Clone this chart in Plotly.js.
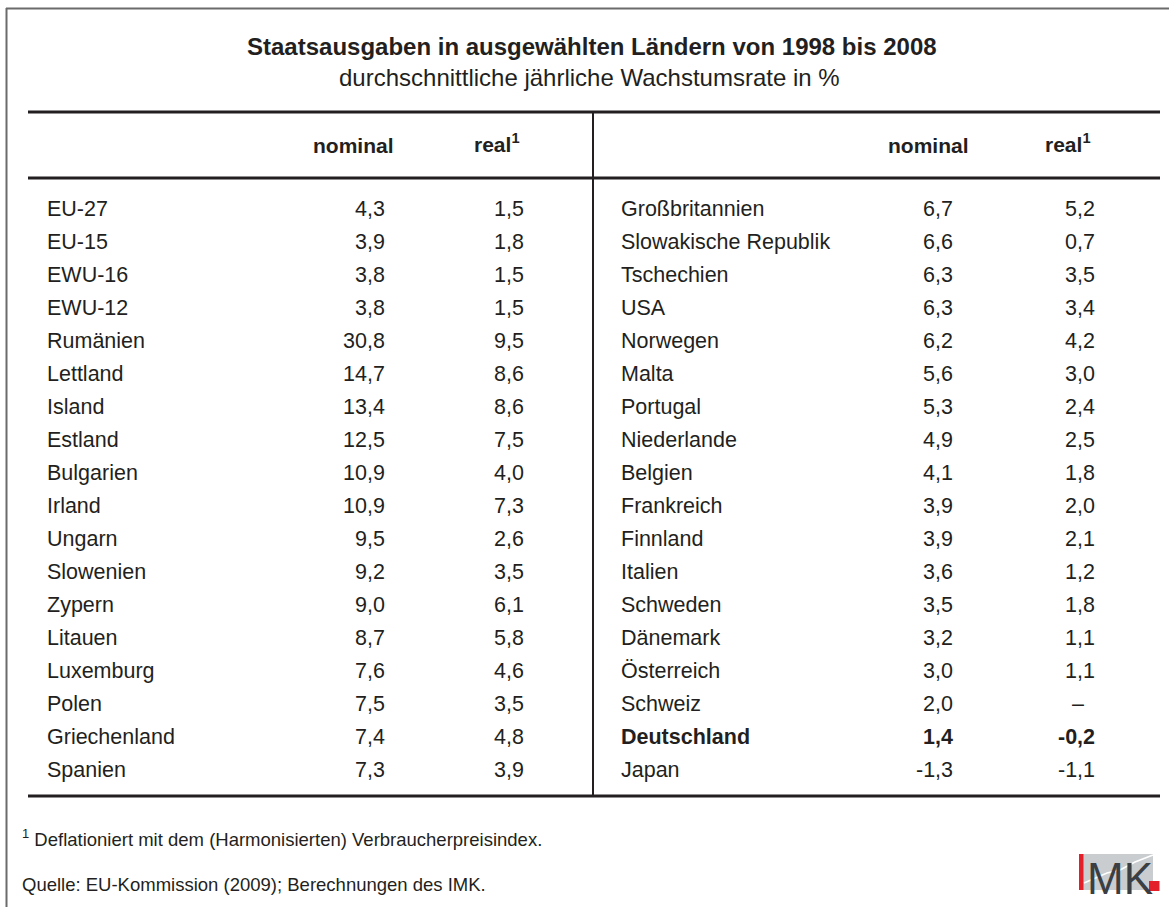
<!DOCTYPE html>
<html><head><meta charset="utf-8">
<script src="https://cdn.plot.ly/plotly-3.0.1.min.js"></script>
<style>html,body{margin:0;padding:0;background:#fff;overflow:hidden}</style>
</head><body><div id="chart" style="width:1169px;height:907px"></div>
<script>
// ---- data ----
const titleText = "Staatsausgaben in ausgewählten Ländern von 1998 bis 2008";
const subtitleText = "durchschnittliche jährliche Wachstumsrate in %";
const headerNominal = "nominal";
const headerReal = "real<sup>1</sup>";
const leftCountries = ["EU-27","EU-15","EWU-16","EWU-12","Rumänien","Lettland","Island","Estland","Bulgarien","Irland","Ungarn","Slowenien","Zypern","Litauen","Luxemburg","Polen","Griechenland","Spanien"];
const leftNominal = [4.3,3.9,3.8,3.8,30.8,14.7,13.4,12.5,10.9,10.9,9.5,9.2,9.0,8.7,7.6,7.5,7.4,7.3];
const leftReal = [1.5,1.8,1.5,1.5,9.5,8.6,8.6,7.5,4.0,7.3,2.6,3.5,6.1,5.8,4.6,3.5,4.8,3.9];
const rightCountries = ["Großbritannien","Slowakische Republik","Tschechien","USA","Norwegen","Malta","Portugal","Niederlande","Belgien","Frankreich","Finnland","Italien","Schweden","Dänemark","Österreich","Schweiz","Deutschland","Japan"];
const rightNominal = [6.7,6.6,6.3,6.3,6.2,5.6,5.3,4.9,4.1,3.9,3.9,3.6,3.5,3.2,3.0,2.0,1.4,-1.3];
const rightReal = [5.2,0.7,3.5,3.4,4.2,3.0,2.4,2.5,1.8,2.0,2.1,1.2,1.8,1.1,1.1,null,-0.2,-1.1];
const highlightCountry = "Deutschland";
const footnoteText = "<sup>1</sup> Deflationiert mit dem (Harmonisierten) Verbraucherpreisindex.";
const sourceText = "Quelle: EU-Kommission (2009); Berechnungen des IMK.";
const logoText = "MK";

// ---- styling / layout ----
const W = 1169, H = 907;
const FONT = "Liberation Sans, Arial, Helvetica, sans-serif";
const INK = "#231f20";
const rowTop = 208.5, rowStep = 33;
const fmt = v => v == null ? "–\u2002" : v.toFixed(1).replace(".", ",");
const rightBold = rightCountries.map(c => c === highlightCountry);

// table cells as annotations placed on the data axes (x in px units, y = row index)
function colAnn(texts, x, xanchor, boldMask) {
  return texts.map((t, i) => ({
    text: boldMask && boldMask[i] ? "<b>" + t + "</b>" : t,
    xref: "x", yref: "y", x: x, y: i, xanchor: xanchor, yanchor: "middle",
    showarrow: false, borderpad: 0, borderwidth: 0,
    font: {family: FONT, size: 21.5, color: INK}
  }));
}

const cellAnnotations = [].concat(
  colAnn(leftCountries, 47, "left"),
  colAnn(leftNominal.map(fmt), 385, "right"),
  colAnn(leftReal.map(fmt), 524, "right"),
  colAnn(rightCountries, 621, "left", rightBold),
  colAnn(rightNominal.map(fmt), 953, "right", rightBold),
  colAnn(rightReal.map(fmt), 1095, "right", rightBold)
);

const py = y => 1 - y / H;   // pixel -> paper y
const px = x => x / W;
const line = (x0, y0, x1, y1, w, c) => ({type: "line", xref: "paper", yref: "paper",
  x0: px(x0), x1: px(x1), y0: py(y0), y1: py(y1), line: {color: c, width: w}});
const rect = (x0, y0, x1, y1, c) => ({type: "rect", xref: "paper", yref: "paper",
  x0: px(x0), x1: px(x1), y0: py(y0), y1: py(y1), line: {width: 0}, fillcolor: c, layer: "below"});

const shapes = [
  line(6, 8.5, 1169, 8.5, 2, "#6b6b6b"),
  line(6.5, 8, 6.5, 907, 2, "#6b6b6b"),
  line(28, 112, 1160, 112, 3.2, INK),
  line(28, 178, 1160, 178, 3.2, INK),
  line(28, 796, 1160, 796, 3.2, INK),
  line(593, 112, 593, 796, 2, INK),
  // logo
  rect(1079, 854, 1153, 890, "#c9cdd0"),
  rect(1079, 854, 1083.5, 890, "#e3202a"),
  rect(1149, 881, 1159.5, 891, "#e3202a"),
  {type: "path", xref: "paper", yref: "paper", layer: "below",
   path: `M ${px(1084)} ${py(883)} L ${px(1107)} ${py(873)} L ${px(1120)} ${py(870)} L ${px(1135)} ${py(862)} L ${px(1153)} ${py(855)}`,
   line: {color: "#ffffff", width: 1.5}}
];

const ann = (text, x, y, xa, size, extra) => Object.assign({
  text, xref: "paper", yref: "paper", x: px(x), y: py(y), xanchor: xa, yanchor: "middle",
  showarrow: false, font: {family: FONT, size, color: INK}
}, extra || {});

const annotations = [
  ann("<b>" + titleText + "</b>", 592, 47, "center", 24),
  ann(subtitleText, 589, 78, "center", 24),
  ann("<b>" + headerNominal + "</b>", 353, 145, "center", 21),
  ann("<b>" + headerReal + "</b>", 497, 143, "center", 21),
  ann("<b>" + headerNominal + "</b>", 928, 145, "center", 21),
  ann("<b>" + headerReal + "</b>", 1068, 143, "center", 21),
  ann(footnoteText, 20, 838, "left", 18.5),
  ann(sourceText, 20, 884, "left", 18.5),
  ann(logoText, 1120, 878, "center", 44,
      {font: {family: "Liberation Sans Narrow, Arial Narrow, Liberation Sans, sans-serif", size: 44, color: "#3b3e42"}})
].concat(cellAnnotations);

const layout = {
  width: W, height: H, margin: {l: 0, r: 0, t: 0, b: 0},
  paper_bgcolor: "#ffffff", plot_bgcolor: "#ffffff",
  xaxis: {range: [0, W], visible: false, fixedrange: true},
  yaxis: {range: [(H - rowTop) / rowStep, (0 - rowTop) / rowStep], visible: false, fixedrange: true},
  shapes, annotations, showlegend: false
};
Plotly.newPlot("chart", [], layout, {staticPlot: true, displayModeBar: false});
</script></body></html>
